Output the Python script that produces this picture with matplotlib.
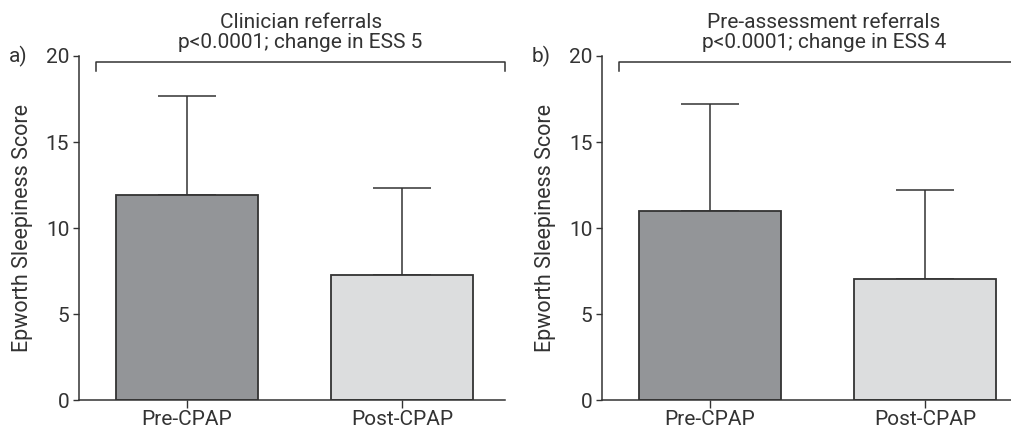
import matplotlib
matplotlib.use("Agg")
import matplotlib.pyplot as plt

plt.rcParams['font.family'] = ['Roboto', 'DejaVu Sans']

categories = ["Pre-CPAP", "Post-CPAP"]
# panel a: clinician referrals
means_a = [11.9, 7.3]
sd_a = [5.8, 5.0]
# panel b: pre-assessment referrals
means_b = [11.0, 7.05]
sd_b = [6.2, 5.15]

titles = ["Clinician referrals\np<0.0001; change in ESS 5",
          "Pre-assessment referrals\np<0.0001; change in ESS 4"]
panel_labels = ["a)", "b)"]
yticks = [0, 5, 10, 15, 20]

bar_colors = ["#939598", "#dcddde"]
edge = "#333333"
txt = "#333333"

fig = plt.figure(figsize=(10.12, 4.34), dpi=100)
lefts = [0.078, 0.595]

for i, (means, sds) in enumerate([(means_a, sd_a), (means_b, sd_b)]):
    ax = fig.add_axes([lefts[i], 0.078, 0.421, 0.793])
    x = [0, 1]
    ax.bar(x, means, width=0.66, color=bar_colors, edgecolor=edge, linewidth=1.3, zorder=2)
    ax.errorbar(x, means, yerr=[[0, 0], sds], fmt="none", ecolor=edge,
                elinewidth=1.1, capsize=21, capthick=1.1, zorder=1)
    ax.set_xlim(-0.5, 1.478)
    ax.set_ylim(0, 20)
    ax.set_xticks(x)
    ax.set_xticklabels(categories, fontsize=15, color=txt)
    ax.set_yticks(yticks)
    ax.set_yticklabels([str(t) for t in yticks], fontsize=15, color=txt)
    ax.tick_params(axis="y", length=4, width=1, color=edge, pad=3)
    ax.tick_params(axis="x", length=6, width=1, color=edge, pad=1)
    for s in ["top", "right"]:
        ax.spines[s].set_visible(False)
    for s in ["left", "bottom"]:
        ax.spines[s].set_color(edge)
        ax.spines[s].set_linewidth(1.1)
    ax.set_ylabel("Epworth Sleepiness Score", fontsize=15.5, color=txt, labelpad=9)

    # significance bracket
    bx0, bx1 = -0.42, 1.478
    ax.plot([bx0, bx0, bx1, bx1], [19.1, 19.67, 19.67, 19.1], color=edge,
            linewidth=1.1, clip_on=False)
    ax.text((bx0 + bx1) / 2, 20.25, titles[i], ha="center", va="bottom",
            fontsize=15, color=txt, linespacing=1.05)
    ax.text(-0.165, 1.0, panel_labels[i], transform=ax.transAxes, ha="left",
            va="center", fontsize=15, color=txt)

fig.savefig("out.png", dpi=100)
